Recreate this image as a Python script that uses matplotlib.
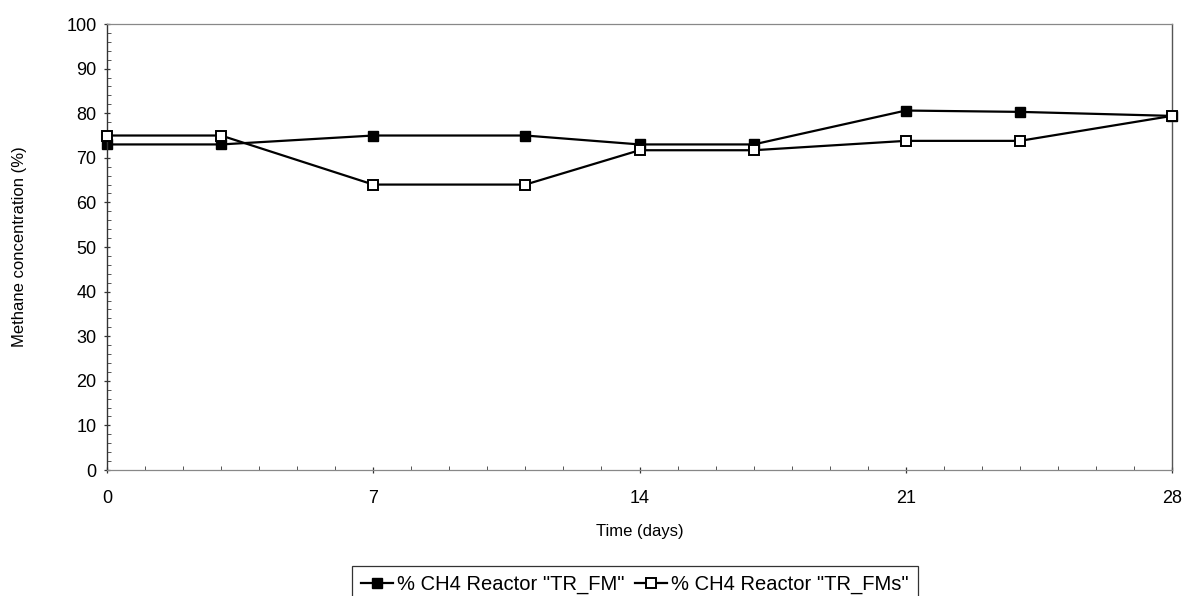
import matplotlib
matplotlib.use("Agg")
import matplotlib.pyplot as plt
from matplotlib.ticker import MultipleLocator

plt.rcParams["font.family"] = ["Liberation Sans", "DejaVu Sans"]

days = [0, 3, 7, 11, 14, 17, 21, 24, 28]
ch4_tr_fm = [73, 73, 75, 75, 73, 73, 80.6, 80.3, 79.4]
ch4_tr_fms = [75, 75, 64, 64, 71.7, 71.7, 73.8, 73.8, 79.4]
labels = ['% CH4 Reactor "TR_FM"', '% CH4 Reactor "TR_FMs"']

fig = plt.figure(figsize=(11.89, 5.96), dpi=100)
ax = fig.add_axes([0.090, 0.2114, 0.8957, 0.7483])

ax.plot(days, ch4_tr_fm, color="black", linewidth=1.6, marker="s", markersize=7.5,
        markerfacecolor="black", markeredgecolor="black", label=labels[0], clip_on=False)
ax.plot(days, ch4_tr_fms, color="black", linewidth=1.6, marker="s", markersize=7.5,
        markerfacecolor="white", markeredgecolor="black", markeredgewidth=1.4,
        label=labels[1], clip_on=False, zorder=3)

ax.set_xlim(0, 28)
ax.set_ylim(0, 100)
ax.xaxis.set_major_locator(MultipleLocator(7))
ax.xaxis.set_minor_locator(MultipleLocator(1))
ax.yaxis.set_major_locator(MultipleLocator(10))
ax.yaxis.set_minor_locator(MultipleLocator(2))

ax.tick_params(axis="both", which="major", labelsize=13, length=5, width=0.9,
               direction="inout", color="#333333")
ax.tick_params(axis="both", which="minor", length=3, width=0.7,
               direction="in", color="#555555")
ax.tick_params(axis="x", which="major", pad=12)
ax.tick_params(axis="y", which="major", pad=5)

for side in ["top", "bottom"]:
    ax.spines[side].set_color("#888888")
    ax.spines[side].set_linewidth(0.9)
ax.spines["left"].set_color("#333333")
ax.spines["left"].set_linewidth(1.0)
ax.spines["right"].set_color("#555555")
ax.spines["right"].set_linewidth(1.0)

ax.set_xlabel("Time (days)", fontsize=12, labelpad=12)
ax.set_ylabel("Methane concentration (%)", fontsize=12, labelpad=28)

leg = fig.legend(loc="lower center", bbox_to_anchor=(0.534, -0.012), ncol=2,
                 fontsize=14.5, frameon=True, fancybox=False, edgecolor="black",
                 handlelength=1.6, handletextpad=0.2, columnspacing=0.5,
                 borderpad=0.45, borderaxespad=0.0)
leg.get_frame().set_linewidth(0.9)
for h in leg.legend_handles:
    h.set_markersize(7)

fig.savefig("out.png", dpi=100)
